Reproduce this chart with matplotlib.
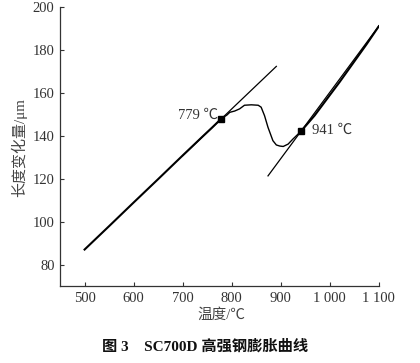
import numpy as np
import matplotlib.pyplot as plt

# dilatometer curve
temp = [500, 550, 600, 650, 700, 740, 760, 779, 790, 796, 806, 816, 826, 840, 854,
        860, 867, 871, 874, 879, 884, 891, 898, 905, 915, 925, 941, 969, 1000, 1020,
        1050, 1075, 1100]
dl = [87, 97.9, 108.9, 119.8, 130.8, 139.5, 143.8, 148, 149.6, 150.9, 151.5, 152.5, 154.2,
      154.4, 154.2, 153.3, 149.3, 146.2, 143.9, 140.8, 137.7, 135.7, 135.2, 135, 136.1,
      138.5, 142, 149.4, 158.9, 165, 174.6, 182.6, 191]

# tangent lines and transformation points
tan1_x = [700, 891]
tan1_y = [130.7, 172.3]
tan2_x = [874, 1100]
tan2_y = [121.3, 191.1]
pt_x = [779, 941]
pt_y = [148, 142]
pt_labels = ['779 ℃', '941 ℃']

xticks = [500, 600, 700, 800, 900, 1000, 1100]
xticklabels = ['500', '600', '700', '800', '900', '1 000', '1 100']
yticks = [80, 100, 120, 140, 160, 180, 200]

fam = ['Liberation Serif', 'Noto Sans CJK SC']
plt.rcParams['font.family'] = fam

fig = plt.figure(figsize=(4.2, 3.63), dpi=100)
ax = fig.add_axes([0.143, 0.212, 0.759, 0.769])

# thick straight parts, thinner transformation region
i0 = temp.index(779)
i1 = temp.index(941)
ax.plot(temp[:i0 + 1], dl[:i0 + 1], color='black', lw=1.5)
ax.plot(temp[i0:i1 + 1], dl[i0:i1 + 1], color='black', lw=1.0)
ax.plot(temp[i1:], dl[i1:], color='black', lw=1.5)
ax.plot(tan1_x, tan1_y, color='black', lw=0.9)
ax.plot(tan2_x, tan2_y, color='black', lw=0.9)
ax.plot(pt_x, pt_y, 's', color='black', ms=4.5)

ax.text(pt_x[0] - 6, pt_y[0] + 1.5, pt_labels[0], ha='right', va='center', fontsize=10.5, color='#333333')
ax.text(pt_x[1] + 22, pt_y[1] + 0.5, pt_labels[1], ha='left', va='center', fontsize=10.5, color='#333333')

ax.set_xlim(450, 1100)
ax.set_ylim(70, 200)
ax.set_xticks(xticks)
ax.set_xticklabels(xticklabels)
ax.set_yticks(yticks)
ax.tick_params(direction='in', length=3, width=0.8, labelsize=10.5, colors='#333333', pad=4)
for s in ['top', 'right']:
    ax.spines[s].set_visible(False)
for s in ['left', 'bottom']:
    ax.spines[s].set_linewidth(0.9)
    ax.spines[s].set_color('#333333')

fig.text(221 / 420, 1 - 315 / 363, '温度/℃', ha='center', va='center', fontsize=10.5, color='#444444')
fig.text(19 / 420, 1 - 148 / 363, '长度变化量/μm', ha='center', va='center', rotation=90,
         fontsize=10.8, color='#444444')
fig.text(205 / 420, 1 - 346 / 363, '图 3    SC700D 高强钢膨胀曲线', ha='center', va='center',
         fontsize=11, fontweight='bold', color='#111111')

plt.savefig('out.png', dpi=100)
